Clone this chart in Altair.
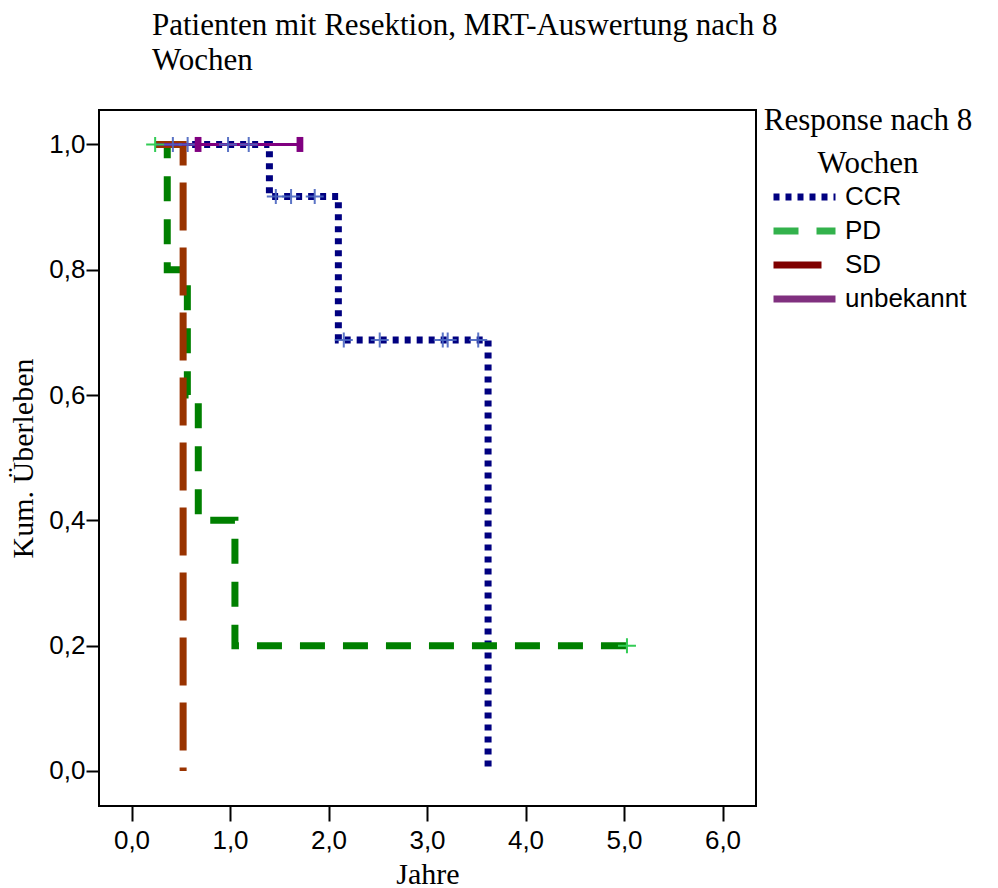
import altair as alt
import pandas as pd

groups = ["CCR", "PD", "SD", "unbekannt"]

# Kaplan-Meier step curves (time in years, cumulative survival)
ccr_t = [0.25, 1.40, 2.10, 3.62]
ccr_s = [1.0, 0.917, 0.688, 0.0]
pd_t = [0.25, 0.363, 0.567, 0.678, 1.05, 5.03]
pd_s = [1.0, 0.8, 0.6, 0.4, 0.2, 0.2]
sd_t = [0.25, 0.524]
sd_s = [1.0, 0.0]
unb_t = [0.25, 1.71]
unb_s = [1.0, 1.0]

# censored observations
ccr_cens_t = [0.42, 0.57, 0.98, 1.19, 1.465, 1.62, 1.86, 2.155, 2.52, 3.16, 3.21, 3.52]
ccr_cens_s = [1.0, 1.0, 1.0, 1.0, 0.917, 0.917, 0.917, 0.688, 0.688, 0.688, 0.688, 0.688]
pd_cens_t = [0.24, 5.03]
pd_cens_s = [1.0, 0.2]
unb_cens_t = [0.676, 1.71]
unb_cens_s = [1.0, 1.0]

x_ticks = [0, 1, 2, 3, 4, 5, 6]
y_ticks = [0.0, 0.2, 0.4, 0.6, 0.8, 1.0]

line_colors = {"CCR": "#000080", "PD": "#008000", "SD": "#993300", "unbekannt": "#800080"}
legend_colors = ["#000080", "#33b24c", "#800000", "#80307f"]
dashes = {"CCR": [6, 6], "PD": [25, 18], "SD": [48, 17], "unbekannt": [1, 0]}
widths = {"CCR": 7, "PD": 7, "SD": 7, "unbekannt": 3}

comma = "replace(format(datum.value, '.1f'), '.', ',')"

x_enc = alt.X("t:Q",
              scale=alt.Scale(domain=[-0.33, 6.34], nice=False, zero=False),
              axis=alt.Axis(values=x_ticks, title="Jahre", labelExpr=comma,
                            tickSize=15, labelPadding=6, titlePadding=6))
y_enc = alt.Y("s:Q",
              scale=alt.Scale(domain=[-0.056, 1.055], nice=False, zero=False),
              axis=alt.Axis(values=y_ticks, title="Kum. Überleben", labelExpr=comma,
                            tickSize=13, labelPadding=1, titlePadding=10))

curves = {"CCR": (ccr_t, ccr_s), "PD": (pd_t, pd_s), "SD": (sd_t, sd_s),
          "unbekannt": (unb_t, unb_s)}

layers = []
first = True
for g in groups:
    t, s = curves[g]
    df = pd.DataFrame({"t": t, "s": s})
    layer = alt.Chart(df).mark_line(
        interpolate="step-after", color=line_colors[g], strokeDash=dashes[g],
        strokeWidth=widths[g], strokeCap="butt", clip=True
    ).encode(x=x_enc if first else alt.X("t:Q"), y=y_enc if first else alt.Y("s:Q"))
    first = False
    layers.append(layer)

plus_path = "M-1.2,0H1.2M0,-1V1"
ccr_cens = alt.Chart(pd.DataFrame({"t": ccr_cens_t, "s": ccr_cens_s})).mark_point(
    shape=plus_path, size=225, filled=False, stroke="#4a66c0", strokeWidth=2, opacity=0.9
).encode(x="t:Q", y="s:Q")
pd_cens = alt.Chart(pd.DataFrame({"t": pd_cens_t, "s": pd_cens_s})).mark_point(
    shape=plus_path, size=225, filled=False, stroke="#33cc55", strokeWidth=2, opacity=1
).encode(x="t:Q", y="s:Q")
unb_cens = alt.Chart(pd.DataFrame({"t": unb_cens_t, "s": unb_cens_s})).mark_point(
    shape="M-0.45,-1H0.45V1H-0.45Z", size=225, filled=True, fill="#800080",
    strokeWidth=0, opacity=1
).encode(x="t:Q", y="s:Q")

# legend carrier: one point per group -> no visible line
leg_title = ["Response nach 8", "Wochen"]
leg_df = pd.DataFrame({"group": groups, "t": [0, 0, 0, 0], "s": [1, 1, 1, 1]})
legend_layer = alt.Chart(leg_df).mark_line(strokeWidth=7, strokeCap="butt").encode(
    x="t:Q", y="s:Q",
    color=alt.Color("group:N", scale=alt.Scale(domain=groups, range=legend_colors),
                    title=leg_title),
    strokeDash=alt.StrokeDash("group:N",
                              scale=alt.Scale(domain=groups,
                                              range=[dashes[g] for g in groups]),
                              title=leg_title),
)

chart = alt.layer(*layers, ccr_cens, pd_cens, unb_cens, legend_layer).properties(
    width=657, height=696,
    autosize=alt.AutoSizeParams(type="none"),
    padding={"left": 99, "top": 110, "right": 242, "bottom": 82},
    title=alt.Title(["Patienten mit Resektion, MRT-Auswertung nach 8", "Wochen"],
                    anchor="start", frame="group", dx=53, font="Liberation Serif",
                    fontSize=31, fontWeight="normal", lineHeight=35, offset=29,
                    color="black"),
).configure_view(stroke="black", strokeWidth=2).configure_axis(
    domain=False, grid=False, tickColor="black", tickWidth=2,
    labelFont="Liberation Sans", labelFontSize=26, labelColor="black",
    titleFont="Liberation Serif", titleFontSize=30, titleFontWeight="normal",
    titleColor="black"
).configure_legend(
    orient="none", legendX=665, legendY=-4, padding=0,
    titleFont="Liberation Serif", titleFontSize=31, titleFontWeight="normal",
    titleColor="black", titleLineHeight=43, titleAnchor="middle", titleAlign="center",
    titleLimit=500, titlePadding=2, labelFont="Liberation Sans", labelFontSize=26,
    labelColor="black", labelOffset=6, symbolSize=3844, symbolStrokeWidth=7,
    symbolType="stroke", clipHeight=30, rowPadding=4
)

chart.save("out.html", embed_options={"renderer": "svg", "actions": False})
